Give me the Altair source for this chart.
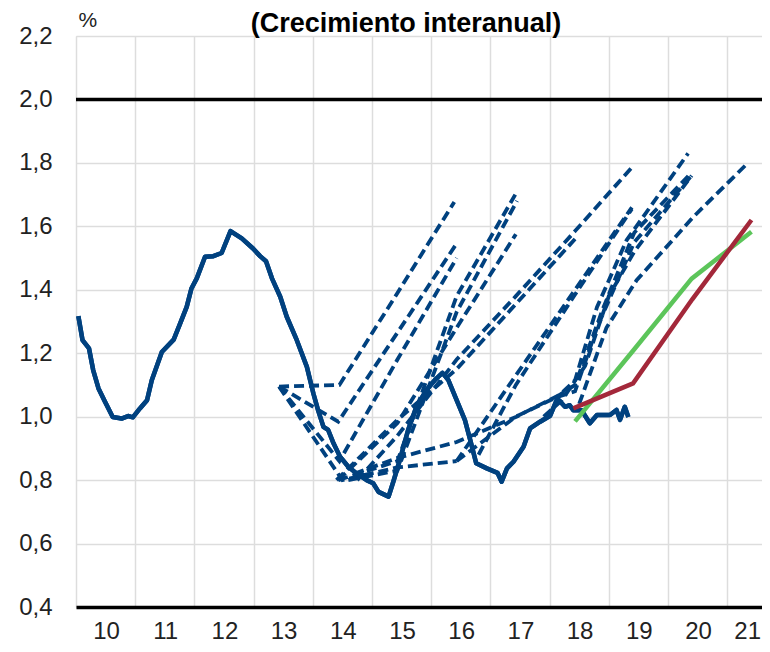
import altair as alt
import pandas as pd

# ---------------- data ----------------
year_ticks = list(range(2010, 2022))
y_ticks = [0.4, 0.6, 0.8, 1.0, 1.2, 1.4, 1.6, 1.8, 2.0, 2.2]
target_value = [2.0]

# observed series (solid dark blue)
hist_t = [2010.04, 2010.11, 2010.22, 2010.29, 2010.38, 2010.49, 2010.62, 2010.77, 2010.88, 2010.96,
          2011.08, 2011.20, 2011.28, 2011.45, 2011.65, 2011.76, 2011.87, 2011.95, 2012.04, 2012.18,
          2012.32, 2012.46, 2012.61, 2012.80, 2012.99, 2013.11, 2013.21, 2013.31, 2013.45, 2013.56,
          2013.73, 2013.90, 2014.01, 2014.09, 2014.18, 2014.26, 2014.35, 2014.46, 2014.60, 2014.74,
          2014.91, 2015.02, 2015.11, 2015.28, 2015.36, 2015.47, 2015.61, 2015.75, 2015.92, 2016.06,
          2016.19, 2016.29, 2016.43, 2016.57, 2016.66, 2016.76, 2016.94, 2017.12, 2017.19, 2017.28,
          2017.39, 2017.56, 2017.67, 2017.84, 2018.01, 2018.13, 2018.26, 2018.34, 2018.40, 2018.54,
          2018.68, 2018.80, 2019.02, 2019.13, 2019.19, 2019.27, 2019.33]
hist_v = [1.317, 1.241, 1.215, 1.147, 1.089, 1.047, 0.999, 0.994, 1.002, 0.998,
          1.026, 1.052, 1.115, 1.204, 1.243, 1.294, 1.346, 1.404, 1.436, 1.504,
          1.506, 1.516, 1.585, 1.562, 1.530, 1.506, 1.490, 1.436, 1.378, 1.315,
          1.241, 1.157, 1.073, 1.020, 0.968, 0.958, 0.916, 0.874, 0.842, 0.821,
          0.800, 0.790, 0.763, 0.748, 0.795, 0.863, 0.958, 1.031, 1.084, 1.115,
          1.138, 1.115, 1.052, 0.989, 0.926, 0.853, 0.837, 0.823, 0.795, 0.837,
          0.858, 0.905, 0.963, 0.984, 1.003, 1.057, 1.031, 1.036, 1.020, 1.020,
          0.979, 1.005, 1.005, 1.021, 0.990, 1.031, 0.999]

# past projection vintages (dashed dark blue)
p01_t = [2013.43, 2014.45, 2015.43, 2016.39]
p01_v = [1.095, 1.100, 1.390, 1.677]
p02_t = [2013.43, 2014.43, 2015.43, 2016.43]
p02_v = [1.095, 0.984, 1.265, 1.546]
p03_t = [2013.43, 2014.45, 2015.43, 2016.43]
p03_v = [1.095, 0.860, 1.180, 1.500]
p04_t = [2013.43, 2014.50, 2015.43, 2016.43]
p04_v = [1.095, 0.800, 0.840, 0.860]
p05_t = [2014.43, 2015.43, 2016.43, 2017.42]
p05_v = [0.800, 0.860, 1.380, 1.700]
p06_t = [2014.60, 2015.43, 2016.43, 2017.45]
p06_v = [0.800, 0.830, 1.330, 1.680]
p07_t = [2014.43, 2015.43, 2016.43, 2017.43]
p07_v = [0.800, 0.980, 1.280, 1.575]
p08_t = [2014.40, 2015.43, 2016.43, 2017.43, 2018.43]
p08_v = [0.800, 0.990, 1.150, 1.355, 1.560]
p09_t = [2014.75, 2015.43, 2016.43, 2017.43, 2018.43, 2019.41]
p09_v = [0.800, 0.940, 1.180, 1.380, 1.585, 1.790]
p10_t = [2016.43, 2017.43, 2018.43, 2019.39]
p10_v = [0.860, 1.130, 1.400, 1.660]
p11_t = [2016.80, 2017.43, 2018.43, 2019.39]
p11_v = [0.880, 1.100, 1.385, 1.655]
p12_t = [2014.70, 2015.43, 2016.43, 2017.44, 2018.18, 2018.43, 2018.80, 2019.30, 2020.34]
p12_v = [0.820, 0.870, 0.920, 1.000, 1.070, 1.115, 1.345, 1.556, 1.830]
p13_t = [2016.43, 2017.43, 2018.10, 2018.43, 2018.80, 2019.43, 2020.40]
p13_v = [0.860, 1.000, 1.060, 1.080, 1.280, 1.550, 1.760]
p14_t = [2017.90, 2018.20, 2018.60, 2019.00, 2019.43, 2020.40]
p14_v = [1.000, 1.050, 1.160, 1.380, 1.520, 1.760]
p15_t = [2018.10, 2018.43, 2018.90, 2019.43, 2020.40]
p15_v = [1.060, 1.100, 1.340, 1.580, 1.770]
p16_t = [2018.50, 2018.96, 2019.47, 2020.43, 2021.35]
p16_v = [1.040, 1.280, 1.430, 1.630, 1.800]

# latest projections
green_t = [2018.43, 2019.42, 2020.40, 2021.41]
green_v = [0.985, 1.210, 1.435, 1.583]
red_t = [2018.40, 2019.41, 2020.41, 2021.41]
red_v = [1.026, 1.105, 1.370, 1.620]

# ---------------- build tables ----------------
hist_df = pd.DataFrame({"t": hist_t, "v": hist_v})
proj_pairs = [(p01_t, p01_v), (p02_t, p02_v), (p03_t, p03_v), (p04_t, p04_v),
              (p05_t, p05_v), (p06_t, p06_v), (p07_t, p07_v), (p08_t, p08_v),
              (p09_t, p09_v), (p10_t, p10_v), (p11_t, p11_v), (p12_t, p12_v),
              (p13_t, p13_v), (p14_t, p14_v), (p15_t, p15_v), (p16_t, p16_v)]
rows = []
for i, (ts, vs) in enumerate(proj_pairs):
    for k, (t, v) in enumerate(zip(ts, vs)):
        rows.append({"series": f"p{i+1:02d}", "t": t, "v": v, "order": k})
proj_df = pd.DataFrame(rows)
green_df = pd.DataFrame({"t": green_t, "v": green_v})
red_df = pd.DataFrame({"t": red_t, "v": red_v})
target_df = pd.DataFrame({"v": target_value})

BLUE = "#00417f"
GREEN = "#5cc55a"
RED = "#a3283a"
FONT = "Liberation Sans"
TXT = "#222222"

x_enc = alt.X(
    "t:Q",
    scale=alt.Scale(domain=[2010, 2021.588], nice=False, zero=False),
    axis=alt.Axis(
        values=year_ticks,
        grid=True,
        gridColor="#dddddd",
        gridWidth=1.5,
        ticks=False,
        labelOffset={"condition": {"test": "datum.value >= 2021", "value": 20}, "value": 30},
        labelFlush=False,
        labelExpr="substring(toString(datum.value), 2, 4)",
        labelFont=FONT,
        labelFontSize=24,
        labelColor=TXT,
        labelPadding=12,
        domainColor="black",
        domainWidth=3.5,
        title=None,
    ),
)
y_enc = alt.Y(
    "v:Q",
    scale=alt.Scale(domain=[0.4, 2.2], nice=False, zero=False),
    axis=alt.Axis(
        values=y_ticks,
        grid=True,
        gridColor="#dddddd",
        gridWidth=1.5,
        ticks=False,
        domain=False,
        labelExpr="replace(format(datum.value, '.1f'), '.', ',')",
        labelFont=FONT,
        labelFontSize=24,
        labelColor=TXT,
        labelPadding=24,
        title="%",
        titleAngle=0,
        titleAlign="left",
        titleBaseline="middle",
        titleX=2,
        titleY=-16,
        titleFont=FONT,
        titleFontSize=21,
        titleFontWeight="normal",
        titleColor=TXT,
    ),
)

hist = alt.Chart(hist_df).mark_line(color=BLUE, strokeWidth=4.5, strokeJoin="round").encode(
    x=x_enc, y=y_enc
)
proj = alt.Chart(proj_df).mark_line(
    color=BLUE, strokeWidth=3.8, strokeDash=[10, 5]
).encode(x="t:Q", y="v:Q", detail="series:N", order="order:Q")
green = alt.Chart(green_df).mark_line(color=GREEN, strokeWidth=4.5).encode(x="t:Q", y="v:Q")
red = alt.Chart(red_df).mark_line(color=RED, strokeWidth=4.5).encode(x="t:Q", y="v:Q")
target = alt.Chart(target_df).mark_rule(color="black", strokeWidth=3.5).encode(y="v:Q")

chart = alt.layer(hist, proj, hist, green, red, target).properties(
    width=686,
    height=571,
    autosize=alt.AutoSizeParams(type="none"),
    padding={"left": 68, "top": 28, "right": 0, "bottom": 37},
    title=alt.TitleParams(
        "(Crecimiento interanual)",
        anchor="middle",
        frame="group",
        dx=-13,
        dy=33,
        font=FONT,
        fontSize=27,
        fontWeight="bold",
        color="black",
        offset=4,
    ),
).configure_view(stroke=None).configure(background="white")

chart.save("out.html", embed_options={"renderer": "svg", "actions": False})
